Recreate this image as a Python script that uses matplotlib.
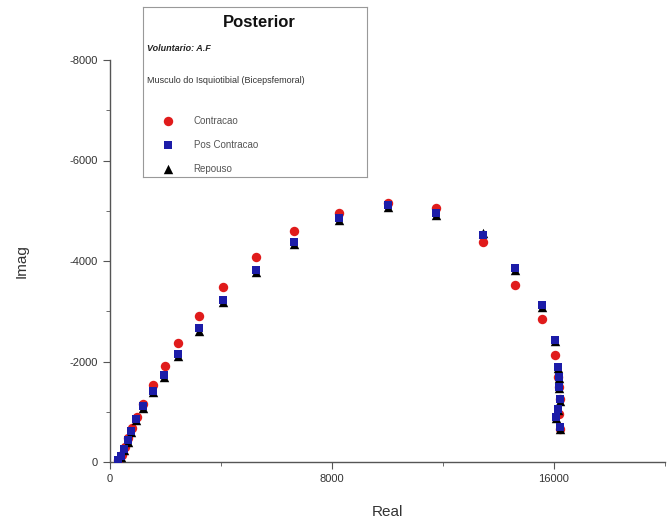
import numpy as np
import matplotlib
matplotlib.use("Agg")
import matplotlib.pyplot as plt
from matplotlib.ticker import MultipleLocator

plt.rcParams['font.family'] = ['Liberation Sans', 'DejaVu Sans']
plt.rcParams['axes.unicode_minus'] = False

# Nyquist data: real part vs imaginary part (ohms), three conditions
re_contr = [300, 420, 540, 660, 780, 960, 1200, 1560, 1970, 2460, 3220, 4080, 5260,
            6630, 8260, 10030, 11750, 13430, 14600, 15560, 16040, 16160, 16180,
            16200, 16180, 16200]
im_contr = [-40, -140, -300, -480, -680, -900, -1150, -1530, -1920, -2370, -2900,
            -3490, -4070, -4600, -4950, -5150, -5050, -4380, -3520, -2840, -2130,
            -1700, -1500, -1250, -950, -660]

re_pos = [280, 400, 520, 640, 760, 940, 1200, 1540, 1950, 2460, 3220, 4080, 5260,
          6630, 8260, 10030, 11750, 13430, 14600, 15560, 16040, 16160, 16170, 16190,
          16220, 16130, 16080, 16200]
im_pos = [-30, -120, -260, -430, -620, -860, -1110, -1420, -1730, -2150, -2660,
          -3220, -3820, -4380, -4850, -5110, -4950, -4520, -3860, -3120, -2430,
          -1900, -1700, -1500, -1250, -1060, -900, -700]

re_rep = [280, 400, 520, 640, 760, 940, 1200, 1540, 1950, 2460, 3220, 4080, 5260,
          6630, 8260, 10030, 11750, 13430, 14600, 15560, 16040, 16160, 16170, 16190,
          16220, 16130, 16080, 16200]
im_rep = [-10, -100, -230, -400, -590, -830, -1080, -1390, -1700, -2110, -2610,
          -3180, -3780, -4340, -4810, -5080, -4920, -4560, -3830, -3090, -2400,
          -1870, -1670, -1470, -1220, -1030, -870, -650]

labels = ['Contracao', 'Pos Contracao', 'Repouso']

fig = plt.figure(figsize=(6.68, 5.24), dpi=100)
ax = fig.add_axes([110 / 668, 1 - 462 / 524, 555 / 668, 402 / 524])

axis_col = '#555555'
h_c = ax.scatter(re_contr, im_contr, s=46, marker='o', color='#e01b1b', lw=0, zorder=3)
h_r = ax.scatter(re_rep, im_rep, s=46, marker='^', color='black', lw=0, zorder=4)
h_p = ax.scatter(re_pos, im_pos, s=38, marker='s', color='#1c1ca8', lw=0, zorder=5)

ax.set_xlim(0, 20000)
ax.set_ylim(0, -8000)
ax.xaxis.set_major_locator(MultipleLocator(8000))
ax.xaxis.set_minor_locator(MultipleLocator(4000))
ax.yaxis.set_major_locator(MultipleLocator(2000))
ax.yaxis.set_minor_locator(MultipleLocator(1000))

for side in ['top', 'right']:
    ax.spines[side].set_visible(False)
for side in ['left', 'bottom']:
    ax.spines[side].set_color(axis_col)
    ax.spines[side].set_linewidth(1.0)

ax.tick_params(axis='both', which='both', colors=axis_col, labelcolor='#333333',
               labelsize=8)
ax.tick_params(axis='both', which='major', length=5, direction='out')
ax.tick_params(axis='both', which='minor', length=3, direction='out')
ax.set_xlabel('Real', fontsize=11, color='#333333', labelpad=15)
ax.set_ylabel('Imag', fontsize=11, color='#333333', labelpad=30)

# info box with title and legend
box = fig.add_axes([143 / 668, 1 - 177 / 524, 224 / 668, 170 / 524])
box.set_xticks([])
box.set_yticks([])
for sp in box.spines.values():
    sp.set_color('#999999')
    sp.set_linewidth(0.8)
box.text(0.52, 0.91, 'Posterior', ha='center', va='center', fontsize=12,
         fontweight='bold', color='#111111')
box.text(0.02, 0.755, 'Voluntario: A.F', ha='left', va='center', fontsize=6.5,
         fontweight='bold', style='italic', color='#222222')
box.text(0.02, 0.57, 'Musculo do Isquiotibial (Bicepsfemoral)', ha='left',
         va='center', fontsize=6.5, color='#333333')
box.legend([h_c, h_p, h_r], labels, loc='upper left', bbox_to_anchor=(0.07, 0.39),
           frameon=False, fontsize=7, labelcolor='#555555', handlelength=1.0,
           handletextpad=2.1, labelspacing=1.45, borderpad=0, scatterpoints=1)

fig.savefig('out.png', dpi=100)
